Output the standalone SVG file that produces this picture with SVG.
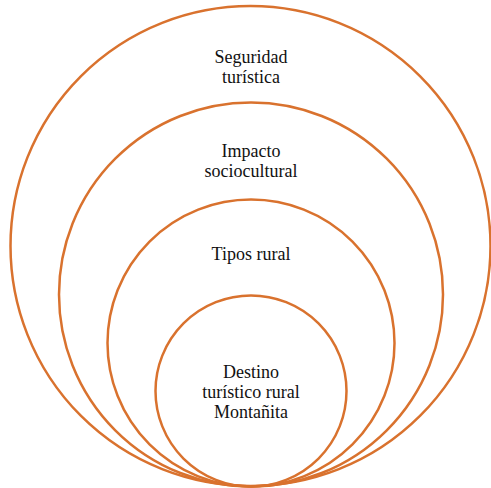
<svg xmlns="http://www.w3.org/2000/svg" width="491" height="488" viewBox="0 0 491 488">
<style>
.ring{fill:none;stroke:#D9722E;stroke-width:2.5}
.lbl{font-family:"Liberation Serif","Times New Roman",serif;font-size:18px;fill:#111;text-anchor:middle}
</style>
<rect width="491" height="488" fill="#fff"/>
<g id="seguridad">
<circle class="ring" cx="250.5" cy="246" r="240"/>
<text class="lbl" x="251" y="63">Seguridad</text>
<text class="lbl" x="251" y="83">turística</text>
</g>
<g id="impacto">
<circle class="ring" cx="251" cy="294.5" r="192"/>
<text class="lbl" x="251" y="157">Impacto</text>
<text class="lbl" x="251" y="177">sociocultural</text>
</g>
<g id="tipos">
<circle class="ring" cx="251" cy="343" r="143.5"/>
<text class="lbl" x="251" y="260">Tipos rural</text>
</g>
<g id="destino">
<circle class="ring" cx="251" cy="391" r="95.5"/>
<text class="lbl" x="251" y="378">Destino</text>
<text class="lbl" x="251" y="398">turístico rural</text>
<text class="lbl" x="251" y="418">Montañita</text>
</g>
<g id="connectors"></g>
</svg>
